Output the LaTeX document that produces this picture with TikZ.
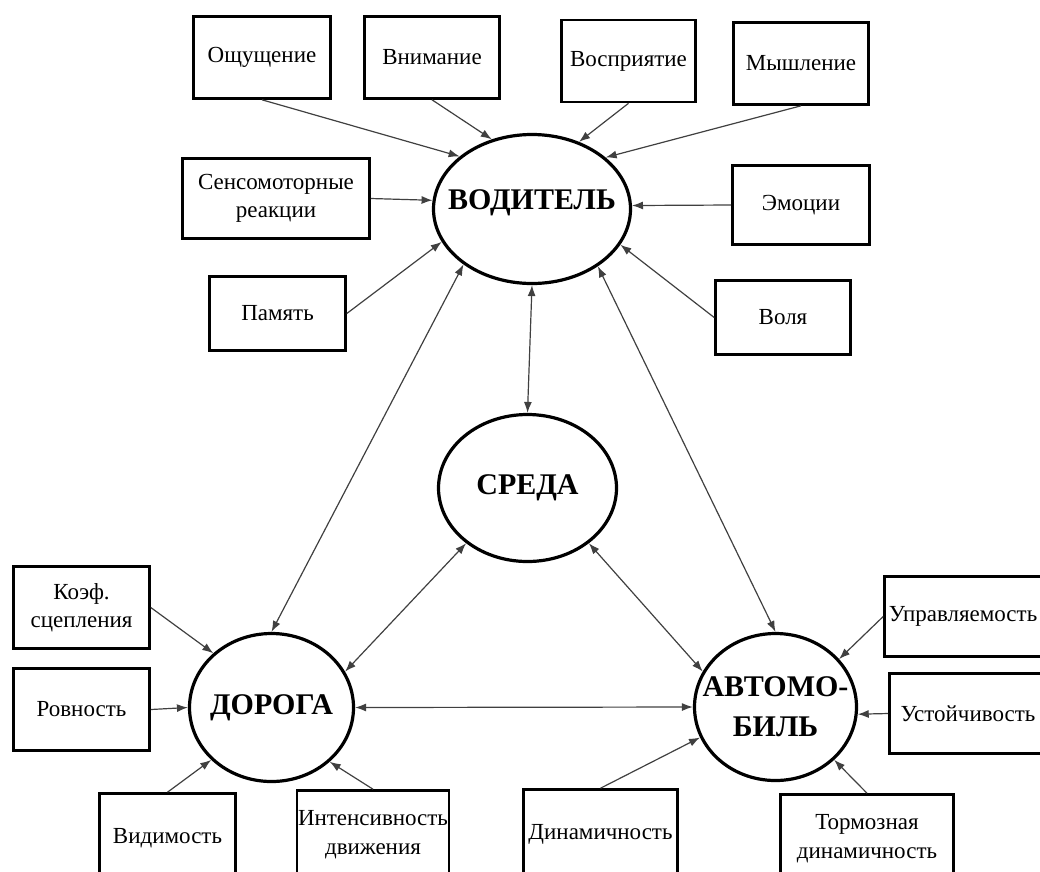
\documentclass[tikz,border=0pt]{standalone}
\usepackage{fontspec}
\setmainfont{Liberation Serif}
\usetikzlibrary{shapes, arrows.meta}

\begin{document}
\begin{tikzpicture}[
    x = 1pt, y = -1pt,
    line width = 1.2pt,
    draw = black!75,
    >= {Latex[length = 11pt, width = 8pt]},
    factor/.style = {rectangle,
      draw = black,
      line width = 2.6pt,
      minimum height = 82pt,
      inner sep = 1pt,
      align = center,
      font = \fontsize{23}{28.5}\selectfont},
    lowfactor/.style = {factor,
      minimum height = 100pt,
      text depth = 16pt},
    subsystem/.style = {ellipse,
      draw = black,
      line width = 3.2pt,
      inner xsep = -18pt,
      inner ysep = 0pt,
      align = center,
      font = \bfseries\fontsize{30}{40}\selectfont}
    ]
    \useasboundingbox (0, 0) rectangle (1040, 871);

    % the four subsystems
    \node at (532, 209) [subsystem, minimum width = 197pt, minimum height = 149pt,
      text depth = 18pt, name = driver] {ВОДИТЕЛЬ};
    \node at (527.5, 488) [subsystem, minimum width = 178pt, minimum height = 147pt,
      name = environment] {СРЕДА};
    \node at (271.5, 707.5) [subsystem, minimum width = 164pt, minimum height = 148pt,
      name = road] {ДОРОГА};
    \node at (775.5, 707) [subsystem, minimum width = 162pt, minimum height = 147pt,
      name = car] {АВТОМО-\\БИЛЬ};

    % driver factors
    \node at (262, 57.5) [factor, minimum width = 137pt, name = sensation] {Ощущение};
    \node at (432, 57.5) [factor, minimum width = 135pt, name = attention] {Внимание};
    \node at (628.5, 61) [factor, minimum width = 134pt, name = perception] {Восприятие};
    \node at (801, 63.5) [factor, minimum width = 135pt, name = thinking] {Мышление};
    \node at (276, 198.5) [factor, minimum width = 187pt, minimum height = 80pt,
      name = sensomotor] {Сенсомоторные\\реакции};
    \node at (277.5, 313.5) [factor, minimum width = 136pt, minimum height = 74pt,
      name = memory] {Память};
    \node at (801, 205) [factor, minimum width = 137pt, minimum height = 79pt,
      name = emotions] {Эмоции};
    \node at (783, 317.5) [factor, minimum width = 135pt, minimum height = 74pt,
      name = will] {Воля};

    % road factors
    \node at (81.5, 607.5) [factor, minimum width = 136pt, name = grip] {Коэф.\\сцепления};
    \node at (81.5, 709.5) [factor, minimum width = 136pt, name = evenness] {Ровность};
    \node at (167.5, 843.5) [lowfactor, minimum width = 136pt, name = visibility] {Видимость};
    \node at (373, 840.5) [lowfactor, minimum width = 151pt, name = traffic] {Интенсивность\\движения};

    % car factors
    \node at (600.5, 839.5) [lowfactor, minimum width = 154pt, name = dynamics] {Динамичность};
    \node at (867, 844.5) [lowfactor, minimum width = 173pt, name = braking] {Тормозная\\динамичность};
    \node at (963, 616.5) [factor, minimum width = 157pt, minimum height = 80pt,
      name = handling] {Управляемость};
    \node at (968, 713.5) [factor, minimum width = 157pt, minimum height = 80pt,
      name = stability] {Устойчивость};

    \draw [->] (sensation.south) -- (driver.144);
    \draw [->] (attention.south) -- (driver.120);
    \draw [->] (perception.south) -- (driver.55);
    \draw [->] (thinking.south) -- (driver.35);
    \draw [->] (sensomotor.east) -- (driver.175);
    \draw [->] (memory.east) -- (driver.200);
    \draw [->] (emotions.west) -- (driver.2);
    \draw [->] (will.west) -- (driver.338);

    \draw [<->] (driver.219) -- (road.north);
    \draw [<->] (driver.south) -- (environment.north);
    \draw [<->] (driver.319) -- (car.north);
    \draw [<->] (environment.222) -- (road.26);
    \draw [<->] (environment.318) -- (car.154);
    \draw [<->] (road.east) -- (car.west);

    \draw [->] (grip.east) -- (road.137);
    \draw [->] (evenness.east) -- (road.west);
    \draw [->] (visibility.north) -- (road.221);
    \draw [->] (traffic.north) -- (road.317);

    \draw [->] (handling.west) -- (car.37);
    \draw [->] (stability.west) -- (car.355);
    \draw [->] (dynamics.north) -- (car.202);
    \draw [->] (braking.north) -- (car.318);

  \end{tikzpicture}
\end{document}
